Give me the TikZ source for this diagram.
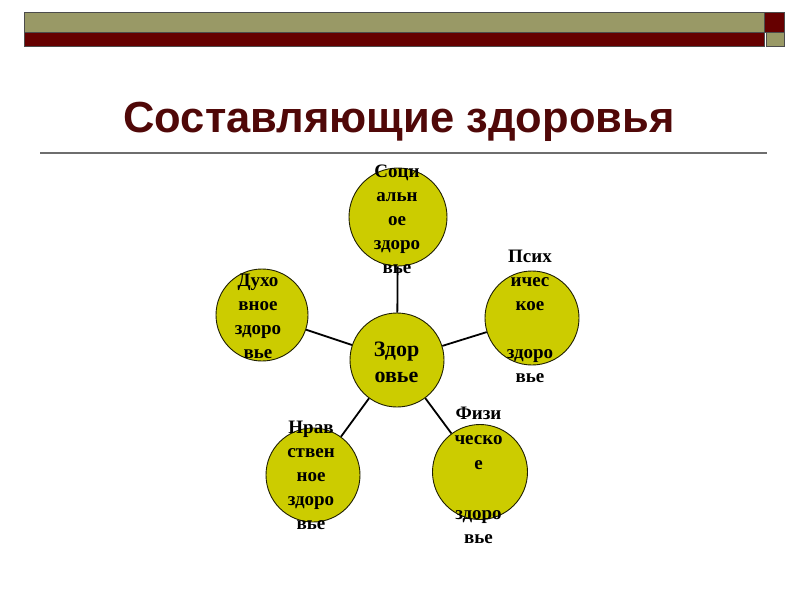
\documentclass[tikz,border=0pt]{standalone}
\usepackage{fontspec}
\setmainfont{Liberation Serif}
\newfontfamily\titlefont{Liberation Sans}
\definecolor{barolive}{RGB}{153,153,102}
\definecolor{barred}{RGB}{102,0,0}
\definecolor{circfill}{RGB}{204,204,0}
\definecolor{titlered}{RGB}{80,8,8}
\definecolor{rulegray}{RGB}{110,110,110}
\tikzset{
  circ/.style={circle, draw=black!85!circfill, line width=0.9pt, fill=circfill, minimum size=#1, inner sep=0pt},
  lbl/.style={align=center, font=\bfseries\fontsize{19}{24}\selectfont, inner sep=0pt},
  conn/.style={line width=1.8pt, black},
  barbox/.style={draw=black!70, line width=0.6pt}
}
\begin{document}
\begin{tikzpicture}[x=1pt,y=-1pt]
\useasboundingbox (0,0) rectangle (800,600);
\fill[white] (0,0) rectangle (800,600);
% header bars
\draw[barbox, fill=barolive] (24,12) rectangle (764,32);
\draw[barbox, fill=barred] (24,32) rectangle (764,46);
\draw[barbox, fill=barred] (764,12) rectangle (784,32);
\draw[barbox, fill=barolive] (766,32) rectangle (784,46);
% title
\node[anchor=base, text=titlered, font=\titlefont\bfseries\fontsize{43.5}{50}\selectfont, inner sep=0pt] (title) at (399,132) {Составляющие здоровья};
\draw[rulegray, line width=1.3pt] (40,153) -- (767,153);
% circles
\node[circ=94pt] (c) at (397,360) {};
\node[circ=98pt] (soc) at (398,217) {};
\node[circ=94pt] (psy) at (532,318) {};
\node[circ=92pt] (duh) at (262,315) {};
\node[circ=94pt] (nrav) at (313,475) {};
\node[circ=95pt] (fiz) at (480,472) {};
% connectors
\draw[conn] (c) -- (soc);
\draw[conn] (c) -- (psy);
\draw[conn] (c) -- (duh);
\draw[conn] (c) -- (nrav);
\draw[conn] (c) -- (fiz);
% labels
\node[lbl, font=\bfseries\fontsize{22}{26}\selectfont] (tc) at (396.5,364) {\strut Здор\\\strut овье};
\node[lbl] (tsoc) at (397,221) {\strut Соци\\\strut альн\\\strut ое\\\strut здоро\\\strut вье};
\node[lbl] (tpsy) at (530,318) {\strut Псих\\\strut ичес\\\strut кое\\\strut\\\strut здоро\\\strut вье};
\node[lbl] (tduh) at (258,317.5) {\strut Духо\\\strut вное\\\strut здоро\\\strut вье};
\node[lbl] (tnrav) at (311,476.5) {\strut Нрав\\\strut ствен\\\strut ное\\\strut здоро\\\strut вье};
\node[lbl, font=\bfseries\fontsize{19}{24.8}\selectfont] (tfiz) at (478.5,477) {\strut Физи\\\strut ческо\\\strut е\\\strut\\\strut здоро\\\strut вье};
\end{tikzpicture}
\end{document}
